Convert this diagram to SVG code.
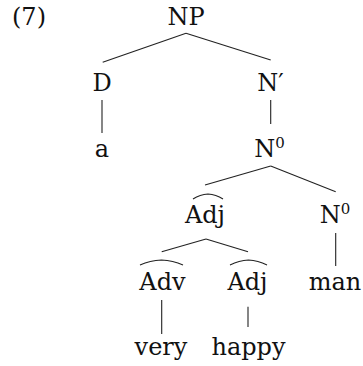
<svg xmlns="http://www.w3.org/2000/svg" width="363" height="366" viewBox="0 0 363 366">
<style>
text{font-family:"DejaVu Serif","Liberation Serif",serif;font-size:24px;fill:#111;text-anchor:middle}
.sup{font-size:15px}
.e{stroke:#222;stroke-width:1.1;fill:none}
.hat{stroke:#222;stroke-width:1.1;fill:none}
</style>
<rect width="363" height="366" fill="#fff"/>
<text x="29" y="25">(7)</text>
<g id="connectors">
<line class="e" x1="186" y1="33.3" x2="102.7" y2="62.3"/>
<line class="e" x1="186" y1="33.3" x2="270.7" y2="60"/>
<line class="e" x1="102" y1="100" x2="102" y2="133"/>
<line class="e" x1="270.7" y1="100" x2="270.7" y2="124"/>
<line class="e" x1="270.7" y1="166" x2="205" y2="185"/>
<line class="e" x1="270.7" y1="166" x2="335.7" y2="191.7"/>
<line class="e" x1="206" y1="239" x2="161.7" y2="251.7"/>
<line class="e" x1="206" y1="239" x2="248" y2="251.7"/>
<line class="e" x1="335.7" y1="233" x2="335.7" y2="266"/>
<line class="e" x1="161.7" y1="300" x2="161.7" y2="334"/>
<line class="e" x1="248" y1="306.7" x2="248" y2="327"/>
</g>
<g id="NP"><text x="186" y="25">NP</text></g>
<g id="D"><text x="102" y="91">D</text></g>
<g id="Nbar"><text x="270.5" y="91">N′</text></g>
<g id="a"><text x="102" y="157">a</text></g>
<g id="N0a"><text x="269.5" y="157">N<tspan class="sup" dy="-9">0</tspan></text></g>
<g id="Adj1"><path class="hat" d="M193,199 Q200,194.5 208,194 Q216,194.5 223,199"/><text x="205" y="223">Adj</text></g>
<g id="N0b"><text x="335" y="223">N<tspan class="sup" dy="-9">0</tspan></text></g>
<g id="Adv"><path class="hat" d="M140,265 Q150,260.5 161.5,260 Q173,260.5 183,265"/><text x="162.5" y="290">Adv</text></g>
<g id="Adj2"><path class="hat" d="M230,265 Q239,260.5 248.5,260 Q258,260.5 267,265"/><text x="247.5" y="290">Adj</text></g>
<g id="man"><text x="335" y="290">man</text></g>
<g id="very"><text x="161" y="355">very</text></g>
<g id="happy"><text x="248.5" y="355">happy</text></g>
</svg>
